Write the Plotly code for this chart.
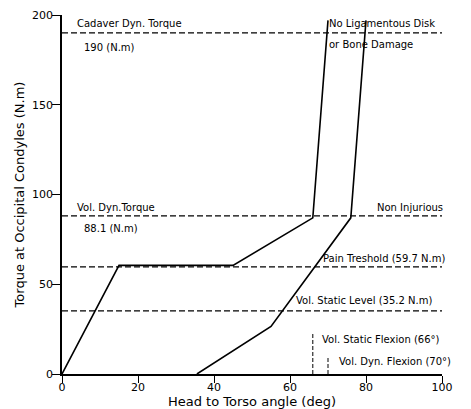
import plotly.graph_objects as go

# Data
curve1_x = [0, 15, 45, 66, 70]
curve1_y = [0, 60.5, 60.5, 87, 197]
curve2_x = [35.5, 55, 76, 80]
curve2_y = [0, 26.5, 87, 197]

h_levels = [190, 88.1, 59.7, 35.2]
v_levels = [66, 70]
v_heights = [23, 9.5]

x_ticks = [0, 20, 40, 60, 80, 100]
y_ticks = [0, 50, 100, 150, 200]

FONT = "DejaVu Sans"

fig = go.Figure()

for lv in h_levels:
    fig.add_trace(go.Scatter(x=[0, 100], y=[lv, lv], mode="lines",
                             line=dict(color="black", width=1.2, dash="6px,3px"),
                             showlegend=False, hoverinfo="skip"))
for xv, hv in zip(v_levels, v_heights):
    fig.add_trace(go.Scatter(x=[xv, xv], y=[0, hv], mode="lines",
                             line=dict(color="black", width=1.0, dash="4px,2px"),
                             showlegend=False, hoverinfo="skip"))

fig.add_trace(go.Scatter(x=curve1_x, y=curve1_y, mode="lines",
                         line=dict(color="black", width=1.6), showlegend=False))
fig.add_trace(go.Scatter(x=curve2_x, y=curve2_y, mode="lines",
                         line=dict(color="black", width=1.6), showlegend=False))

# (text, x, y, anchor, xshift px)
annots = [
    ("Cadaver Dyn. Torque", 3.4, 195.5, "left", 0),
    ("190 (N.m)", 5.3, 182, "left", 0),
    ("No Ligamentous Disk", 69.7, 195.5, "left", 0),
    ("or Bone Damage", 69.7, 183.5, "left", 0),
    ("Vol. Dyn.Torque", 3.4, 93, "left", 0),
    ("88.1 (N.m)", 5.3, 81, "left", 0),
    ("Non Injurious", 100, 93, "right", 3),
    ("Pain Treshold (59.7 N.m)", 100, 64.3, "right", 5),
    ("Vol. Static Level (35.2 N.m)", 97.9, 40.7, "right", 0),
    ("Vol. Static Flexion (66°)", 67.9, 19.5, "left", 0),
    ("Vol. Dyn. Flexion (70°)", 72.4, 6.8, "left", 0),
]
for text, x, y, anchor, xs in annots:
    fig.add_annotation(x=x, y=y, text=text, xref="x", yref="y", xshift=xs,
                       xanchor=anchor, yanchor="middle", showarrow=False,
                       font=dict(family=FONT, size=10, color="black"))

fig.update_xaxes(range=[0, 100], tickvals=x_ticks, showgrid=False, zeroline=False,
                 showline=True, linecolor="black", linewidth=1.5, automargin=False,
                 ticks="outside", ticklen=7, tickcolor="black", tickwidth=1.2,
                 ticklabelstandoff=-5,
                 tickfont=dict(family=FONT, size=11, color="black"),
                 title=dict(text="Head to Torso angle (deg)", standoff=4,
                            font=dict(family=FONT, size=13, color="black")))
fig.update_yaxes(range=[0, 200], tickvals=y_ticks, showgrid=False, zeroline=False,
                 showline=True, linecolor="black", linewidth=1.5, automargin=False,
                 ticks="outside", ticklen=8, tickcolor="black", tickwidth=1.2,
                 ticklabelstandoff=-3,
                 tickfont=dict(family=FONT, size=11, color="black"),
                 title=dict(text="Torque at Occipital Condyles (N.m)", standoff=4,
                            font=dict(family=FONT, size=13, color="black")))

fig.update_layout(width=471, height=409, margin=dict(l=62, r=29, t=15, b=35),
                  plot_bgcolor="white", paper_bgcolor="white", showlegend=False)

fig.write_html("out.html")
